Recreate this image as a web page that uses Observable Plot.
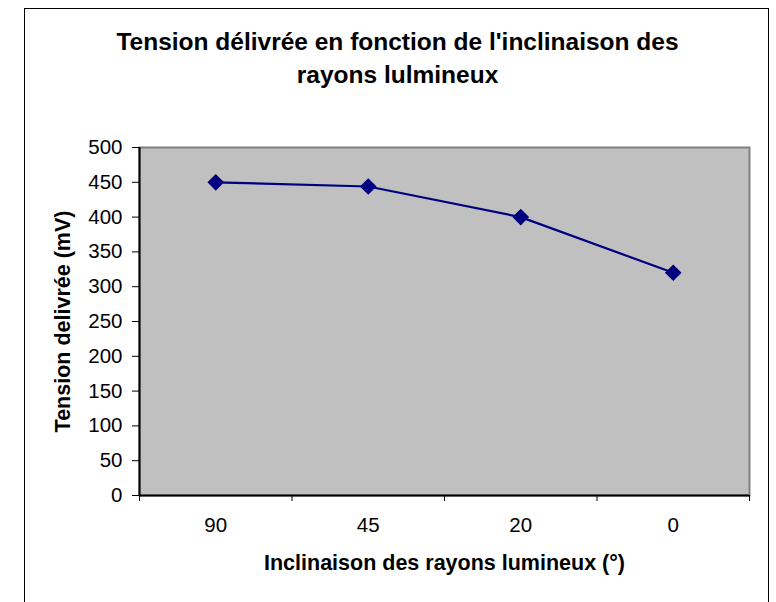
<!DOCTYPE html>
<html>
<head>
<meta charset="utf-8">
<script src="https://cdn.jsdelivr.net/npm/d3@7"></script>
<script src="https://cdn.jsdelivr.net/npm/@observablehq/plot@0.6"></script>
<style>
  html, body { margin: 0; padding: 0; background: #fff; overflow: hidden; }
  #wrap { position: relative; width: 776px; height: 602px; overflow: hidden; }
  #border { position: absolute; left: 24px; top: 8px; width: 745px; height: 620px; border: 1px solid #000; box-sizing: border-box; pointer-events: none; }
</style>
</head>
<body>
<div id="wrap"><div id="chart"></div><div id="border"></div></div>
<script>
const titleLines = ["Tension délivrée en fonction de l'inclinaison des", "rayons lulmineux"];
const xTitle = "Inclinaison des rayons lumineux (°)";
const yTitle = "Tension delivrée (mV)";
const categories = ["90", "45", "20", "0"];
const tensions = [450, 444, 400, 320];
const yTicks = [0, 50, 100, 150, 200, 250, 300, 350, 400, 450, 500];

const data = categories.map((c, i) => ({pos: i + 0.5, label: c, v: tensions[i]}));
const bandEdges = d3.range(categories.length + 1);
const bandCenters = data.map(d => d.pos);

const chart = Plot.plot({
  width: 776,
  height: 602,
  marginLeft: 139,
  marginRight: 27,
  marginTop: 147,
  marginBottom: 107,
  style: {fontFamily: "'Liberation Sans', Arial, sans-serif", fontSize: "20px", background: "white", color: "black"},
  x: {domain: [0, categories.length]},
  y: {domain: [0, 500]},
  marks: [
    Plot.frame({fill: "#c0c0c0", stroke: "#808080", strokeWidth: 2}),
    Plot.ruleY([0], {stroke: "black", strokeWidth: 2}),
    Plot.ruleX([0], {stroke: "black", strokeWidth: 2}),
    Plot.axisY({ticks: yTicks, tickSize: 7, tickPadding: 10, label: null, stroke: "black", fontSize: 20.5}),
    Plot.axisX({ticks: bandEdges, tickSize: 6, tickFormat: () => "", label: null, stroke: "black"}),
    Plot.axisX({ticks: bandCenters, tickSize: 0, tickPadding: 22, tickFormat: (d) => categories[Math.floor(d)], label: null, fontSize: 20.5}),
    Plot.line(data, {x: "pos", y: "v", stroke: "#000080", strokeWidth: 2.2}),
    Plot.dot(data, {x: "pos", y: "v", symbol: "diamond2", r: 7.5, fill: "#000080", stroke: "none"}),
    Plot.text([titleLines[0]], {text: d => d, frameAnchor: "top", textAnchor: "middle", dx: -47, dy: -105, lineAnchor: "middle", fontSize: 24.5, fontWeight: "bold", fill: "black"}),
    Plot.text([titleLines[1]], {text: d => d, frameAnchor: "top", textAnchor: "middle", dx: -47, dy: -72, lineAnchor: "middle", fontSize: 24.5, fontWeight: "bold", fill: "black"}),
    Plot.text([xTitle], {text: d => d, frameAnchor: "bottom", textAnchor: "middle", dy: 68, lineAnchor: "middle", fontSize: 21.5, fontWeight: "bold", fill: "black"}),
    Plot.text([yTitle], {text: d => d, frameAnchor: "left", textAnchor: "middle", dx: -76, rotate: -90, lineAnchor: "middle", fontSize: 21.5, fontWeight: "bold", fill: "black"})
  ]
});
document.getElementById("chart").appendChild(chart);
</script>
</body>
</html>
